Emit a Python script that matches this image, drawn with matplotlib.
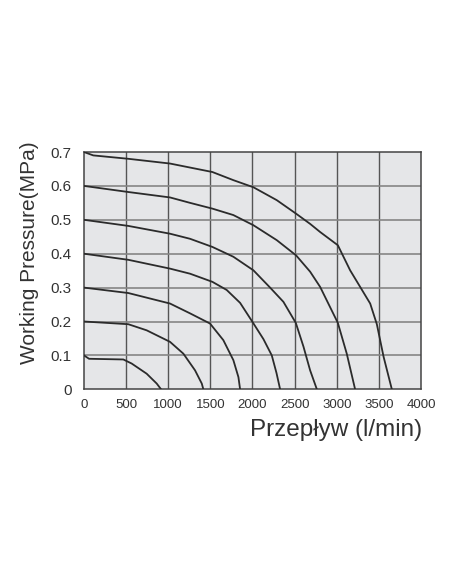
import matplotlib
matplotlib.use("Agg")
import matplotlib.pyplot as plt

plt.rcParams['font.family'] = ['Liberation Sans', 'DejaVu Sans']

# flow (l/min) vs working pressure (MPa), one curve per start pressure
x_07 = [0, 110, 526, 1021, 1524, 1773, 2011, 2288, 2518, 2684, 2803, 3013, 3159, 3397, 3476, 3556, 3654]
y_07 = [0.70, 0.69, 0.68, 0.666, 0.641, 0.617, 0.596, 0.558, 0.518, 0.488, 0.464, 0.425, 0.351, 0.253, 0.192, 0.096, 0]

x_06 = [0, 526, 1021, 1259, 1524, 1773, 2011, 2288, 2518, 2684, 2803, 3013, 3119, 3218]
y_06 = [0.60, 0.582, 0.566, 0.55, 0.533, 0.514, 0.484, 0.44, 0.395, 0.347, 0.302, 0.196, 0.105, 0]

x_05 = [0, 526, 1021, 1259, 1524, 1773, 2011, 2209, 2367, 2514, 2605, 2684, 2764]
y_05 = [0.50, 0.482, 0.459, 0.444, 0.42, 0.391, 0.351, 0.300, 0.258, 0.196, 0.126, 0.056, 0]

x_04 = [0, 526, 1021, 1259, 1524, 1694, 1853, 2007, 2130, 2229, 2285, 2328]
y_04 = [0.40, 0.382, 0.356, 0.341, 0.317, 0.293, 0.255, 0.196, 0.148, 0.10, 0.048, 0]

x_03 = [0, 526, 1021, 1259, 1496, 1654, 1773, 1833, 1853]
y_03 = [0.30, 0.284, 0.253, 0.224, 0.194, 0.145, 0.086, 0.036, 0]

x_02 = [0, 526, 744, 1021, 1180, 1318, 1398, 1417]
y_02 = [0.20, 0.192, 0.174, 0.14, 0.105, 0.056, 0.017, 0]

x_01 = [0, 60, 467, 566, 744, 863, 915]
y_01 = [0.10, 0.09, 0.088, 0.076, 0.046, 0.017, 0]

curves = [(x_07, y_07), (x_06, y_06), (x_05, y_05), (x_04, y_04),
          (x_03, y_03), (x_02, y_02), (x_01, y_01)]

x_ticks = [0, 500, 1000, 1500, 2000, 2500, 3000, 3500, 4000]
y_ticks = [0, 0.1, 0.2, 0.3, 0.4, 0.5, 0.6, 0.7]
y_labels = ['0', '0.1', '0.2', '0.3', '0.4', '0.5', '0.6', '0.7']

fig = plt.figure(figsize=(4.52, 5.84), dpi=100)
ax = fig.add_axes([0.1858, 0.3334, 0.7456, 0.4063])
ax.set_facecolor('#e5e6e8')

for xv in x_ticks[1:-1]:
    ax.axvline(xv, color='#555555', lw=1.0, zorder=1)
for yv in y_ticks[1:-1]:
    ax.axhline(yv, color='#858585', lw=1.2, zorder=1)

for xs, ys in curves:
    ax.plot(xs, ys, color='#2b2b2b', lw=1.3, zorder=3)

ax.set_xlim(0, 4000)
ax.set_ylim(0, 0.7)
ax.set_xticks(x_ticks)
ax.set_yticks(y_ticks)
ax.set_yticklabels(y_labels)
ax.tick_params(length=0, colors='#333333')
ax.tick_params(axis='y', pad=9, labelsize=11)
ax.tick_params(axis='x', pad=7, labelsize=9.5)
for s in ax.spines.values():
    s.set_color('#444444')
    s.set_linewidth(1.1)

fig.text(30 / 452, 1 - 253 / 584, 'Working Pressure(MPa)', rotation=90,
         ha='center', va='center', fontsize=15, color='#333333')
fig.text(336 / 452, 1 - 430 / 584, 'Przepływ (l/min)',
         ha='center', va='center', fontsize=17.5, color='#333333')

fig.savefig('out.png', dpi=100, facecolor='white')
